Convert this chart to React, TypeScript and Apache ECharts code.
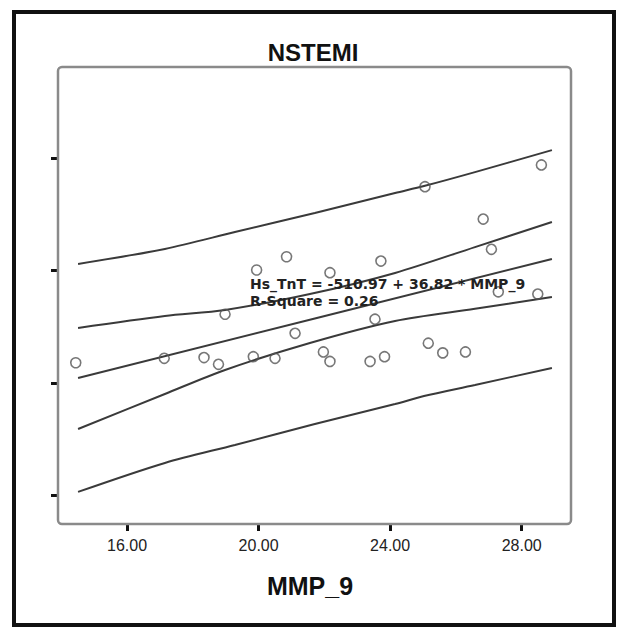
import React, { useEffect, useRef } from "react";
import * as echarts from "echarts";

// Scatter data: MMP_9 (x) vs Hs_TnT (y)
const mmp9 = [14.44, 17.13, 18.34, 18.78, 18.98, 19.84, 19.94, 20.5, 20.85, 21.11, 21.97, 22.17, 22.17, 23.39, 23.54, 23.72, 23.83, 25.06, 25.16, 25.6, 26.29, 26.83, 27.08, 27.29, 28.49, 28.6];
const hsTnT = [90, 110, 113, 83, 306, 117, 503, 110, 562, 221, 138, 96, 491, 96, 284, 543, 117, 874, 177, 134, 138, 730, 595, 406, 396, 971];

// Line x positions
const bandX = [14.51, 17.15, 19.28, 21.71, 24.15, 25.03, 26.58, 28.92];
const upperPred = [530, 597, 672, 757, 846, 877, 939, 1037];
const lowerPred = [-485, -356, -276, -183, -94, -58, -9, 67];
const ciX = [14.51, 17.15, 18.98, 21.56, 24.15, 26.58, 28.92];
const upperCI = [245, 298, 325, 396, 490, 605, 717];
const lowerCI = [-205, -49, 58, 178, 276, 330, 383];
const fitX = [14.51, 21.71, 28.92];
const fitY = [22, 287, 552];

const xTicks = [16, 20, 24, 28];
const yTicks = [-500, 0, 500, 1000];

const title = "NSTEMI";
const xName = "MMP_9";
const eqLine1 = "Hs_TnT = -510.97 + 36.82 * MMP_9";
const eqLine2 = "R-Square = 0.26";

const zip = (xs: number[], ys: number[]) => xs.map((x, i) => [x, ys[i]]);

export default function App() {
  const ref = useRef<HTMLDivElement>(null);
  useEffect(() => {
    if (!ref.current) return;
    const chart = echarts.init(ref.current, null, { renderer: "svg" });
    const lineStyle = { color: "#3a3a3a", width: 2 };
    const mkLine = (data: number[][], smooth: number | boolean) => ({
      type: "line",
      data,
      smooth,
      showSymbol: false,
      symbol: "none",
      lineStyle,
      z: 2,
      silent: true,
    });
    chart.setOption({
      animation: false,
      backgroundColor: "#ffffff",
      grid: { left: 58, right: 55, top: 67, bottom: 106 },
      xAxis: {
        type: "value",
        min: 13.9,
        max: 29.5,
        axisLine: { show: false, onZero: false },
        splitLine: { show: false },
        axisTick: {
          show: true,
          customValues: xTicks,
          length: 7,
          lineStyle: { color: "#111", width: 3 },
        },
        axisLabel: {
          customValues: xTicks,
          formatter: (v: number) => v.toFixed(2),
          fontFamily: "Liberation Sans",
          fontSize: 16,
          color: "#222",
          margin: 13,
        },
      },
      yAxis: {
        type: "value",
        min: -628,
        max: 1407,
        axisLine: { show: false, onZero: false },
        splitLine: { show: false },
        axisTick: {
          show: true,
          customValues: yTicks,
          length: 7,
          lineStyle: { color: "#111", width: 3 },
        },
        axisLabel: { show: false, customValues: yTicks },
      },
      series: [
        mkLine(zip(bandX, upperPred), 0.3),
        mkLine(zip(bandX, lowerPred), 0.3),
        mkLine(zip(ciX, upperCI), 0.3),
        mkLine(zip(ciX, lowerCI), 0.3),
        mkLine(zip(fitX, fitY), false),
        {
          type: "scatter",
          data: zip(mmp9, hsTnT),
          symbol: "circle",
          symbolSize: 10,
          itemStyle: { color: "rgba(255,255,255,0)", borderColor: "#555", borderWidth: 1.6 },
          z: 3,
        },
      ],
      graphic: [
        {
          type: "rect",
          shape: { x: 14, y: 12, width: 600, height: 613 },
          style: { fill: "none", stroke: "#111", lineWidth: 4 },
          silent: true,
        },
        {
          type: "rect",
          shape: { x: 58, y: 67, width: 513, height: 457, r: 4 },
          style: { fill: "none", stroke: "#8a8a8a", lineWidth: 2.5 },
          silent: true,
          z: 1,
        },
        {
          type: "text",
          x: 313,
          y: 52,
          style: {
            text: title,
            fontFamily: "Liberation Sans",
            fontWeight: "bold",
            fontSize: 24,
            fill: "#111",
            align: "center",
            verticalAlign: "middle",
          },
        },
        {
          type: "text",
          x: 310,
          y: 586,
          style: {
            text: xName,
            fontFamily: "Liberation Sans",
            fontWeight: "bold",
            fontSize: 25,
            fill: "#111",
            align: "center",
            verticalAlign: "middle",
          },
        },
        {
          type: "text",
          x: 250,
          y: 284,
          z: 10,
          style: {
            text: eqLine1,
            fontFamily: "DejaVu Sans",
            fontWeight: "bold",
            fontSize: 14,
            fill: "#222",
            align: "left",
            verticalAlign: "middle",
          },
        },
        {
          type: "text",
          x: 250,
          y: 301,
          z: 10,
          style: {
            text: eqLine2,
            fontFamily: "DejaVu Sans",
            fontWeight: "bold",
            fontSize: 14,
            fill: "#222",
            align: "left",
            verticalAlign: "middle",
          },
        },
      ],
    });
    return () => chart.dispose();
  }, []);
  return (
    <div
      ref={ref}
      style={{ position: "fixed", left: 0, top: 0, width: 626, height: 630, background: "#fff" }}
    />
  );
}
